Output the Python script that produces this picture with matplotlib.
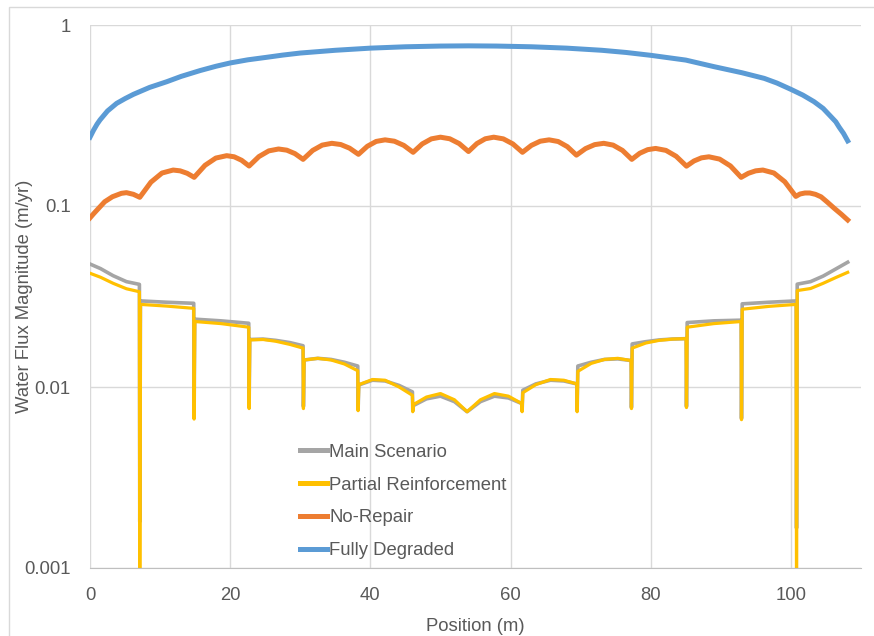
import matplotlib
matplotlib.use('Agg')
import matplotlib.pyplot as plt
from matplotlib.ticker import FixedLocator, FixedFormatter
from matplotlib.patches import Rectangle

plt.rcParams['font.family'] = ['Liberation Sans', 'DejaVu Sans']

# Fully Degraded
blue_x = [0, 0.5, 1, 1.43, 2.5, 3.8, 5, 6.2, 8.5, 10.95, 13, 15.7, 18, 20, 22.5, 25.2, 27.5, 30,
          35, 40, 45, 50, 54, 58, 63, 68, 73, 76.5, 80, 85, 89, 93, 96.2, 98, 100,
          101.7, 103.3, 104.6, 105.7, 106.4, 106.9, 107.5, 108.1]
blue_y = [0.24, 0.262, 0.283, 0.299, 0.335, 0.369, 0.392, 0.414, 0.452, 0.486, 0.52, 0.56, 0.592,
          0.617, 0.642, 0.663, 0.682, 0.70, 0.725, 0.745, 0.758, 0.765, 0.767, 0.765, 0.758,
          0.745, 0.725, 0.705, 0.68, 0.64, 0.589, 0.545, 0.507, 0.478, 0.441,
          0.41, 0.377, 0.346, 0.312, 0.292, 0.272, 0.252, 0.229]

# No-Repair
orange_x = [0, 0.5, 1, 2.1, 3.2, 4.48, 5.2, 6.2, 7.1,
            8.69, 10.27, 11.86, 12.86, 13.86, 14.86,
            16.41, 17.95, 19.5, 20.57, 21.63, 22.7,
            24.1, 25.5, 26.9, 28.07, 29.23, 30.4,
            31.77, 33.13, 34.5, 35.77, 37.03, 38.3,
            39.57, 40.83, 42.1, 43.43, 44.77, 46.1,
            47.4, 48.7, 50.0, 51.33, 52.67, 54.0,
            55.2, 56.4, 57.6, 58.97, 60.33, 61.7,
            62.97, 64.23, 65.5, 66.8, 68.1, 69.4,
            70.7, 72.0, 73.3, 74.63, 75.97, 77.3,
            78.43, 79.57, 80.7, 82.17, 83.63, 85.1,
            86.17, 87.23, 88.3, 89.83, 91.37, 92.9,
            93.93, 94.97, 96.0, 97.57, 99.13, 100.7,
            101.3, 102.0, 102.7, 103.5, 104.3, 105.2, 106.2, 107.2, 108.1]
orange_y = [0.086, 0.0905, 0.095, 0.1056, 0.1125, 0.1175, 0.1185, 0.116, 0.1117,
            0.1354, 0.1521, 0.158, 0.1564, 0.1516, 0.144,
            0.1678, 0.184, 0.1897, 0.187, 0.1789, 0.1663,
            0.1875, 0.2016, 0.2065, 0.2035, 0.1948, 0.181,
            0.2028, 0.217, 0.222, 0.2186, 0.2087, 0.193,
            0.2138, 0.2274, 0.232, 0.228, 0.2162, 0.198,
            0.2203, 0.2349, 0.24, 0.2352, 0.2213, 0.2,
            0.2213, 0.2352, 0.24, 0.2349, 0.2203, 0.198,
            0.2162, 0.228, 0.232, 0.2271, 0.2128, 0.191,
            0.2076, 0.2183, 0.222, 0.217, 0.2028, 0.181,
            0.1956, 0.2048, 0.208, 0.2029, 0.1882, 0.166,
            0.1773, 0.1845, 0.187, 0.1816, 0.1665, 0.144,
            0.1516, 0.1564, 0.158, 0.1522, 0.1361, 0.113,
            0.1165, 0.118, 0.118, 0.116, 0.1124, 0.105, 0.097, 0.09, 0.0837]

# Main Scenario
gray_x = [0, 1.5, 3.3, 5.2, 7.05, 7.1,
          7.2, 10.9, 14.8, 14.85,
          14.95, 18.7, 22.65, 22.7,
          22.8, 24.7, 26.5, 28.5, 30.4, 30.45,
          30.55, 32.5, 34.4, 36.3, 38.2, 38.25,
          38.35, 40.3, 42.1, 44.1, 46.0, 46.05,
          46.15, 48.0, 50.0, 52.0, 53.8,
          55.7, 57.7, 59.7, 61.6, 61.65,
          61.75, 63.6, 65.7, 67.6, 69.45, 69.5,
          69.6, 71.5, 73.4, 75.3, 77.2, 77.25,
          77.35, 79.3, 81.2, 83.1, 85.05, 85.1,
          85.2, 89.0, 92.9, 92.95,
          93.05, 96.9, 100.75, 100.8,
          100.9, 102.8, 104.6, 106.5, 108.1]
gray_y = [0.0478, 0.0451, 0.0412, 0.0382, 0.0369, 0.0018,
          0.0299, 0.0294, 0.029, 0.0068,
          0.0237, 0.0232, 0.0225, 0.0078,
          0.0183, 0.0184, 0.0181, 0.0176, 0.0169, 0.0078,
          0.0141, 0.0144, 0.0142, 0.0137, 0.01306, 0.0075,
          0.01026, 0.0109, 0.0108, 0.0102, 0.0094, 0.0074,
          0.0079, 0.0086, 0.0089, 0.0083, 0.0073,
          0.0083, 0.0089, 0.0087, 0.0081, 0.0074,
          0.0096, 0.0104, 0.0109, 0.0108, 0.0104, 0.0074,
          0.01306, 0.0137, 0.0142, 0.0143, 0.0140, 0.0077,
          0.0173, 0.0178, 0.0182, 0.0184, 0.0185, 0.0078,
          0.0227, 0.0232, 0.0234, 0.0067,
          0.0288, 0.0294, 0.0299, 0.00166,
          0.0370, 0.0382, 0.0410, 0.0451, 0.0489]

# Partial Reinforcement
yellow_x = gray_x
yellow_y = [0.0425, 0.0404, 0.0374, 0.0349, 0.0336, 0.0005,
            0.0286, 0.0280, 0.0272, 0.00665,
            0.0230, 0.0224, 0.0214, 0.0076,
            0.0182, 0.0183, 0.0179, 0.0172, 0.0164, 0.0076,
            0.0141, 0.0144, 0.0141, 0.0134, 0.0123, 0.0074,
            0.0103, 0.0110, 0.0109, 0.0100, 0.0090, 0.0073,
            0.0080, 0.0088, 0.0092, 0.0085, 0.0073,
            0.0085, 0.0092, 0.0089, 0.0081, 0.0073,
            0.0093, 0.0103, 0.0110, 0.0109, 0.0104, 0.0073,
            0.0122, 0.0135, 0.0142, 0.0144, 0.0140, 0.0076,
            0.0164, 0.0175, 0.0181, 0.0184, 0.0185, 0.0077,
            0.0214, 0.0224, 0.0230, 0.0066,
            0.0269, 0.0279, 0.0286, 0.0005,
            0.0341, 0.0350, 0.0374, 0.0404, 0.0430]

y_ticks = [0.001, 0.01, 0.1, 1]
y_tick_labels = ['0.001', '0.01', '0.1', '1']
x_ticks = [0, 20, 40, 60, 80, 100]

text_color = '#595959'
grid_color = '#D9D9D9'

fig = plt.figure(figsize=(8.74, 6.36), dpi=100)
ax = fig.add_axes([90 / 874, 1 - 568 / 636, (861 - 90) / 874, (568 - 25) / 636])

# chart border
fig.patches.append(Rectangle((9 / 874, -0.1), 1.2, 1.1 - 7 / 636, transform=fig.transFigure,
                             fill=False, edgecolor='#D9D9D9', linewidth=1))

ax.plot(gray_x, gray_y, color='#A5A5A5', linewidth=2.6, label='Main Scenario')
ax.plot(yellow_x, yellow_y, color='#FFC000', linewidth=2.3, label='Partial Reinforcement')
ax.plot(orange_x, orange_y, color='#ED7D31', linewidth=3.6, label='No-Repair')
ax.plot(blue_x, blue_y, color='#5B9BD5', linewidth=3.6, label='Fully Degraded')

ax.set_yscale('log')
ax.set_ylim(0.001, 1)
ax.set_xlim(0, 110)
ax.yaxis.set_major_locator(FixedLocator(y_ticks))
ax.yaxis.set_major_formatter(FixedFormatter(y_tick_labels))
ax.yaxis.set_minor_locator(FixedLocator([]))
ax.set_xticks(x_ticks)

ax.grid(True, color=grid_color, linewidth=1)
ax.set_axisbelow(True)
for s in ['top', 'right', 'left']:
    ax.spines[s].set_visible(False)
ax.spines['bottom'].set_color('#BFBFBF')
ax.tick_params(length=0, labelsize=13.3, colors=text_color)
ax.tick_params(axis='y', pad=14)
ax.tick_params(axis='x', pad=14)

ax.set_xlabel('Position (m)', fontsize=13.3, color=text_color, labelpad=10)
ax.set_ylabel('Water Flux Magnitude (m/yr)', fontsize=13.3, color=text_color)
ax.yaxis.set_label_coords(-57 / 771, 0.5)

leg = ax.legend(loc='center left', bbox_to_anchor=(300 / 874, 1 - 501.5 / 636),
                bbox_transform=fig.transFigure, frameon=False, fontsize=13.3,
                handlelength=1.45, handletextpad=0.12, labelspacing=0.85,
                borderpad=0, borderaxespad=0)
for t in leg.get_texts():
    t.set_color(text_color)
for h in leg.get_lines():
    h.set_linewidth(3.6)

plt.savefig('out.png', dpi=100)
